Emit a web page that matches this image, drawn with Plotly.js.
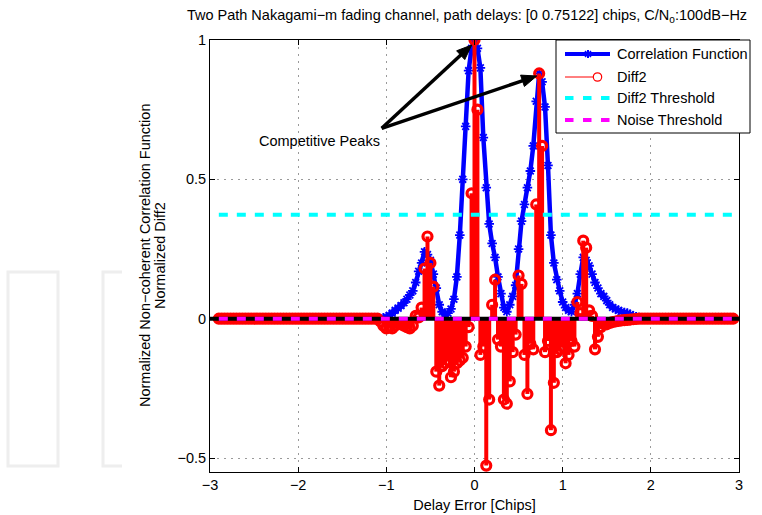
<!DOCTYPE html>
<html>
<head>
<meta charset="utf-8">
<script src="https://cdn.plot.ly/plotly-3.0.1.min.js"></script>
<style>
  html, body { margin: 0; padding: 0; background: #fff; }
  #chart { width: 762px; height: 515px; }
</style>
</head>
<body>
<div id="chart"></div>
<script>
// Delay grid: samples every 1/30 chip starting at -2.9 chips
const delayStart = -2.9;
const delayStep = 1 / 30;

// Normalized non-coherent correlation function (two-path Nakagami-m channel)
const correlation = [
  0,0,0,0,0,0,0,0,0,0, 0,0,0,0,0,0,0,0,0,0,
  0,0,0,0,0,0,0,0,0,0, 0,0,0,0,0,0,0,0,0,0,
  0,0,0,0,0,0,0,0,0,0, 0,0,0,0,0,0,
  0.003,0.006,0.012,0.02,0.03,0.038,0.047,0.057,0.07,0.085,
  0.10,0.13,0.17,0.20,0.24,0.23,0.21,0.16,0.11,0.05,
  0.025,0.015,0.02,0.035,0.07,0.15,0.30,0.50,0.69,0.89,
  0.97,1.0,0.97,0.90,0.65,0.47,0.34,0.27,0.22,0.15,
  0.09,0.04,0.025,0.05,0.08,0.12,0.25,0.35,0.41,0.47,
  0.53,0.62,0.78,0.88,0.85,0.76,0.55,0.30,0.20,0.14,
  0.10,0.06,0.04,0.03,0.025,0.05,0.09,0.16,0.22,0.21,
  0.19,0.16,0.13,0.11,0.09,0.08,0.065,0.05,0.04,0.035,
  0.03,0.025,0.022,0.02,0.015,0.01,0.007,0.004,0.002,
  0,0,0,0,0,0,0,0,0,0, 0,0,0,0,0,0,0,0,0,0,
  0,0,0,0,0,0,0,0,0,0, 0
];

// Normalized second difference (Diff2) of the correlation function
const diff2 = [
  0,0,0,0,0,0,0,0,0,0, 0,0,0,0,0,0,0,0,0,0,
  0,0,0,0,0,0,0,0,0,0, 0,0,0,0,0,0,0,0,0,0,
  0,0,0,0,0,0,0,0,0,0, 0,0,0,0,0,
  -0.01,-0.025,-0.035,-0.03,-0.035,-0.025,-0.015,-0.02,-0.025,-0.03,
  -0.035,-0.025,0.01,0.005,0.04,0.18,0.295,0.20,0.115,-0.19,
  -0.24,-0.17,-0.16,-0.15,-0.21,-0.19,-0.16,-0.15,-0.14,-0.10,
  -0.03,0.45,1.0,0.75,-0.13,-0.10,-0.527,-0.29,0.05,0.14,
  -0.075,-0.10,-0.29,-0.305,-0.225,-0.12,-0.057,0.155,0.125,-0.13,
  -0.27,-0.09,-0.11,0.41,0.88,0.62,-0.12,-0.08,-0.40,-0.23,
  -0.12,-0.11,-0.10,-0.16,-0.13,-0.08,-0.10,0.06,0.02,0.28,
  0.255,0.03,0.01,-0.11,-0.065,-0.03,-0.02,-0.02,-0.015,-0.012,
  -0.01,-0.008,-0.006,-0.005,-0.004,-0.003,-0.002,-0.001,
  0,0,0,0,0,0,0,0,0,0, 0,0,0,0,0,0,0,0,0,0,
  0,0,0,0,0,0,0,0,0,0, 0,0,0
];

// Detection thresholds
const diff2Threshold = 0.373;
const noiseThreshold = 0;

const xTicks = [-3, -2, -1, 0, 1, 2, 3];
const yTicks = [-0.5, 0, 0.5, 1];
const xRange = [-3, 3];
const yRange = [-0.55, 1];

const delayFirst = delayStart;
const delayLast = delayStart + (diff2.length - 1) * delayStep;

// Stems: vertical segments from the zero baseline to each Diff2 value
const stemUp = diff2.map(v => (v < 0 ? -v : 0));
const stemDown = diff2.map(v => (v > 0 ? v : 0));

const FONT = '"Liberation Sans", Arial, Helvetica, sans-serif';
const FS = 14.5;

const traces = [
  {
    type: 'scatter', mode: 'lines+markers', name: 'Correlation Function',
    x0: delayStart, dx: delayStep, y: correlation,
    line: { color: 'rgb(0,0,255)', width: 4.5 },
    marker: { symbol: 'asterisk-open', size: 8, color: 'rgb(0,0,255)',
              line: { color: 'rgb(0,0,255)', width: 1.8 } }
  },
  {
    type: 'scatter', mode: 'markers', name: 'Diff2',
    x0: delayStart, dx: delayStep, y: diff2,
    error_y: { type: 'data', symmetric: false, array: stemUp, arrayminus: stemDown,
               thickness: 4, width: 0, color: 'rgb(255,0,0)' },
    marker: { symbol: 'circle-open', size: 9, color: 'rgb(255,0,0)',
              line: { color: 'rgb(255,0,0)', width: 3.2 } }
  },
  {
    type: 'scatter', mode: 'lines', name: 'baseline',
    x: xRange, y: [0, 0],
    line: { color: 'black', width: 4 }
  },
  {
    type: 'scatter', mode: 'lines', name: 'Diff2 Threshold',
    x: [delayFirst, delayLast], y: [diff2Threshold, diff2Threshold],
    line: { color: 'rgb(0,255,255)', width: 4, dash: '9px,9px' }
  },
  {
    type: 'scatter', mode: 'lines', name: 'Noise Threshold',
    x: [delayFirst, delayLast], y: [noiseThreshold, noiseThreshold],
    line: { color: 'rgb(255,0,255)', width: 4, dash: '9px,9px' }
  }
];

// Pixel helpers for the hand-built legend box and callout (plot area spans 210..739 x 40..472)
const PL = 210, PR = 739, PT = 40, PB = 472;
const px = v => (v - PL) / (PR - PL);
const py = v => (PB - v) / (PB - PT);

const legendRows = [
  { label: 'Correlation Function', y: 54 },
  { label: 'Diff2', y: 77 },
  { label: 'Diff2 Threshold', y: 98 },
  { label: 'Noise Threshold', y: 120 }
];

// "Competitive Peaks" callout arrows, in pixel space: shared tail, one tip per peak
const calloutTail = [381.7, 128.3];
const calloutTips = [[471.7, 45], [536.7, 76]];

function arrowShapes(tail, tip) {
  const dx = tip[0] - tail[0], dy = tip[1] - tail[1];
  const len = Math.hypot(dx, dy);
  const ux = dx / len, uy = dy / len;
  const headLen = 15, headHalf = 6;
  const bx = tip[0] - ux * headLen, by = tip[1] - uy * headLen;
  const l1 = [bx - uy * headHalf, by + ux * headHalf];
  const l2 = [bx + uy * headHalf, by - ux * headHalf];
  return [
    { type: 'line', xref: 'paper', yref: 'paper',
      x0: px(tail[0]), y0: py(tail[1]), x1: px(bx + ux * 2), y1: py(by + uy * 2),
      line: { color: 'black', width: 3.5 }, layer: 'above' },
    { type: 'path', xref: 'paper', yref: 'paper',
      path: `M ${px(tip[0])},${py(tip[1])} L ${px(l1[0])},${py(l1[1])} L ${px(l2[0])},${py(l2[1])} Z`,
      fillcolor: 'black', line: { color: 'black', width: 1 }, layer: 'above' }
  ];
}

const shapes = [
  // faint logo outlines in the left margin
  { type: 'rect', xref: 'paper', yref: 'paper', x0: px(8), x1: px(58), y0: py(466), y1: py(272),
    line: { color: '#eeeeee', width: 3 }, layer: 'below' },
  { type: 'path', xref: 'paper', yref: 'paper',
    path: `M ${px(122)},${py(272)} L ${px(103)},${py(272)} L ${px(103)},${py(466)} L ${px(122)},${py(466)}`,
    line: { color: '#eeeeee', width: 3 }, layer: 'below' }
].concat(
  arrowShapes(calloutTail, calloutTips[0]),
  arrowShapes(calloutTail, calloutTips[1]),
  [
  // legend box
  { type: 'rect', xref: 'paper', yref: 'paper', x0: px(556), x1: px(750), y0: py(133), y1: py(40),
    fillcolor: 'white', line: { color: 'black', width: 1 }, layer: 'above' },
  // legend: correlation function sample
  { type: 'line', xref: 'paper', yref: 'paper', x0: px(565), x1: px(610), y0: py(54), y1: py(54),
    line: { color: 'rgb(0,0,255)', width: 4 }, layer: 'above' },
  { type: 'line', xref: 'paper', yref: 'paper', x0: px(588), x1: px(588), y0: py(50), y1: py(58),
    line: { color: 'rgb(0,0,255)', width: 2 }, layer: 'above' },
  { type: 'line', xref: 'paper', yref: 'paper', x0: px(585), x1: px(591), y0: py(51), y1: py(57),
    line: { color: 'rgb(0,0,255)', width: 1.5 }, layer: 'above' },
  { type: 'line', xref: 'paper', yref: 'paper', x0: px(585), x1: px(591), y0: py(57), y1: py(51),
    line: { color: 'rgb(0,0,255)', width: 1.5 }, layer: 'above' },
  // legend: Diff2 sample
  { type: 'line', xref: 'paper', yref: 'paper', x0: px(565), x1: px(593), y0: py(77), y1: py(77),
    line: { color: 'rgb(255,0,0)', width: 1 }, layer: 'above' },
  { type: 'circle', xref: 'paper', yref: 'paper', x0: px(593.3), x1: px(601.7), y0: py(81.2), y1: py(72.8),
    line: { color: 'rgb(255,0,0)', width: 1.2 }, fillcolor: 'white', layer: 'above' },
  // legend: threshold samples
  { type: 'line', xref: 'paper', yref: 'paper', x0: px(565), x1: px(610), y0: py(98), y1: py(98),
    line: { color: 'rgb(0,255,255)', width: 4, dash: '8.5px,9.5px' }, layer: 'above' },
  { type: 'line', xref: 'paper', yref: 'paper', x0: px(565), x1: px(610), y0: py(120), y1: py(120),
    line: { color: 'rgb(255,0,255)', width: 4, dash: '8.5px,9.5px' }, layer: 'above' }
  ]
);

const textFont = { family: FONT, size: FS, color: 'black' };

const annotations = [
  { xref: 'paper', yref: 'paper', x: px(calloutTail[0]), y: py(141), xanchor: 'right', yanchor: 'middle',
    text: 'Competitive Peaks', showarrow: false, font: textFont },
  // two-line y-axis caption
  { xref: 'paper', yref: 'paper', x: px(145), y: 0.5, xanchor: 'center', yanchor: 'middle', textangle: -90,
    text: 'Normalized Non\u2212coherent Correlation Function', showarrow: false, font: textFont },
  { xref: 'paper', yref: 'paper', x: px(160), y: 0.5, xanchor: 'center', yanchor: 'middle', textangle: -90,
    text: 'Normalized Diff2', showarrow: false, font: textFont }
].concat(legendRows.map(r => ({
  xref: 'paper', yref: 'paper', x: px(615), y: py(r.y), xanchor: 'left', yanchor: 'middle',
  text: r.label, showarrow: false, font: textFont
})));

const axisCommon = {
  ticks: 'inside', ticklen: 5, tickwidth: 1, tickcolor: 'black',
  showline: true, linecolor: 'black', linewidth: 1, mirror: 'ticks',
  showgrid: true, gridcolor: '#9a9a9a', gridwidth: 1, griddash: '2px,5px',
  zeroline: false, automargin: false, fixedrange: true,
  tickfont: textFont
};

const layout = {
  width: 762, height: 515,
  margin: { l: PL, r: 762 - PR, t: PT, b: 515 - PB },
  paper_bgcolor: 'white', plot_bgcolor: 'white',
  showlegend: false,
  font: textFont,
  title: {
    text: 'Two Path Nakagami\u2212m fading channel, path delays: [0 0.75122] chips, C/N<sub>o</sub>:100dB\u2212Hz',
    font: textFont,
    xref: 'container', x: 467 / 762, xanchor: 'center',
    yref: 'container', y: 1 - 15 / 515, yanchor: 'middle'
  },
  xaxis: Object.assign({}, axisCommon, {
    range: xRange, tickvals: xTicks,
    title: { text: 'Delay Error [Chips]', standoff: 7, font: textFont }
  }),
  yaxis: Object.assign({}, axisCommon, {
    range: yRange, tickvals: yTicks
  }),
  shapes: shapes,
  annotations: annotations
};

Plotly.newPlot('chart', traces, layout, { staticPlot: true, displayModeBar: false });
</script>
</body>
</html>
